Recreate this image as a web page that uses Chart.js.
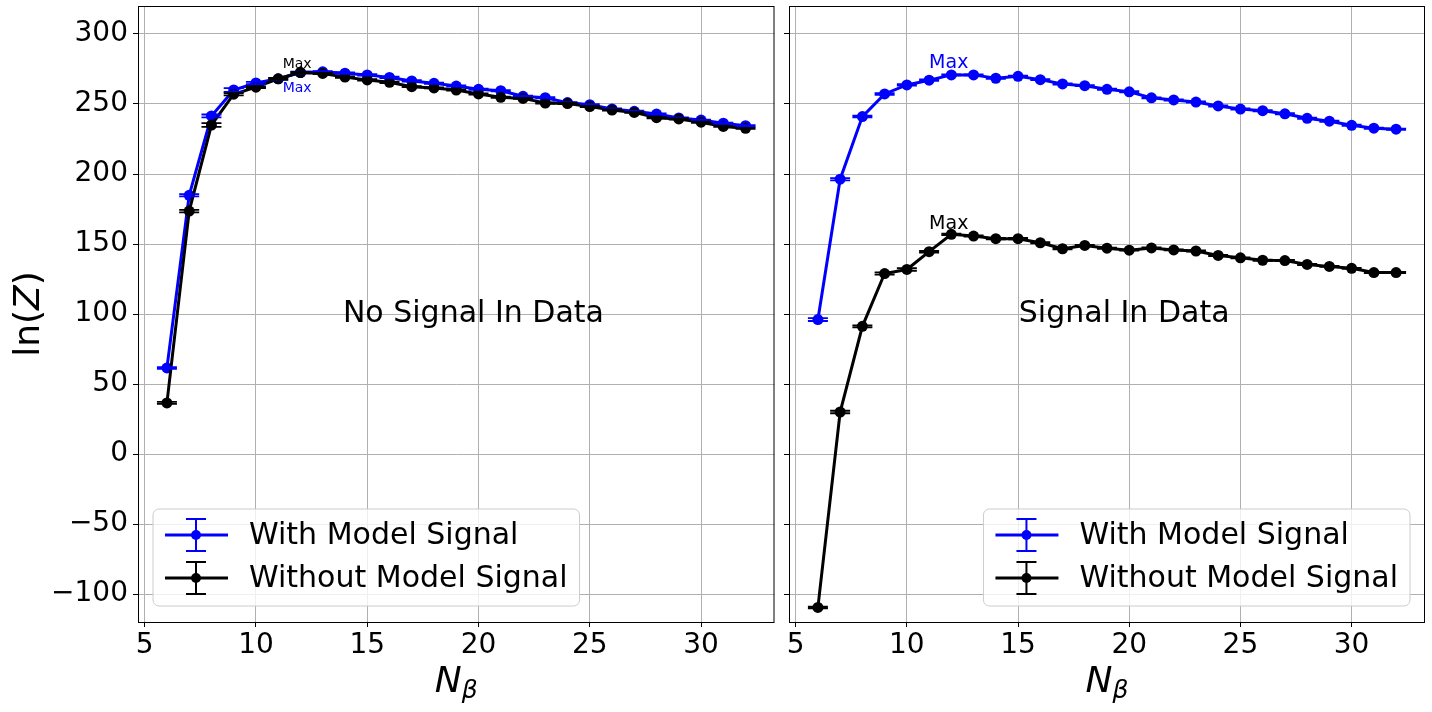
<!DOCTYPE html>
<html>
<head>
<meta charset="utf-8">
<script src="https://cdn.jsdelivr.net/npm/chart.js@4.4.0/dist/chart.umd.min.js"></script>
<style>
  html, body { margin: 0; padding: 0; background: #fff; }
  #wrap { position: relative; width: 1432px; height: 712px; }
  canvas { position: absolute; top: 0; }
</style>
</head>
<body>
<div id="wrap">
  <canvas id="leftChart" width="780" height="712" style="left:0;width:780px;height:712px"></canvas>
  <canvas id="rightChart" width="652" height="712" style="left:780px;width:652px;height:712px"></canvas>
</div>
<script>
// N_beta values (x axis)
const nBeta = [6, 7, 8, 9, 10, 11, 12, 13, 14, 15, 16, 17, 18, 19, 20, 21, 22, 23, 24, 25, 26, 27, 28, 29, 30, 31, 32];

// ln(Z) - no signal in data
const noSigWithModel = [61.5, 184.8, 241.5, 260, 265, 268, 272.5, 273, 272, 270.8, 269, 266.5, 264.8, 262.8, 260.5, 259.5, 255.5, 254.5, 251, 249.5, 246.5, 244.8, 242.8, 240, 238.5, 236.3, 234.5];
const noSigWithoutModel = [36.5, 173.5, 235, 257, 262, 268, 272.5, 271.8, 269.2, 267.2, 265.5, 262.4, 261.5, 260, 257.2, 254.8, 254, 250.7, 250.3, 248.2, 245.7, 244, 240.2, 239.3, 237, 234, 232.6];
const noSigWithErr = [0.6, 0.8, 1.0, 1.4, 0.8, 0.7, 0.6, 0.5, 0.5, 0.5, 0.5, 0.5, 0.4, 0.4, 0.4, 0.4, 0.4, 0.4, 0.4, 0.4, 0.4, 0.4, 0.4, 0.4, 0.4, 0.4, 0.4];
const noSigWithoutErr = [0.7, 0.9, 1.3, 0.8, 0.6, 0.6, 0.5, 0.5, 0.5, 0.5, 0.5, 0.4, 0.4, 0.4, 0.4, 0.4, 0.4, 0.4, 0.4, 0.4, 0.4, 0.4, 0.4, 0.4, 0.4, 0.4, 0.4];

// ln(Z) - signal in data
const sigWithModel = [96, 196.3, 241, 257.2, 263.6, 267, 270.8, 270.8, 268.4, 269.8, 267.4, 264.3, 263.1, 260.5, 258.7, 254.4, 252.9, 251.4, 248.6, 246.4, 245.2, 243, 239.8, 237.7, 234.8, 232.7, 232];
const sigWithoutModel = [-109.6, 30, 91.2, 128.9, 131.8, 144.5, 156.9, 155.7, 153.8, 153.8, 150.9, 146.6, 149, 147, 145.6, 147.2, 145.8, 145, 141.8, 140.1, 138.4, 138.2, 135.4, 134, 132.6, 129.6, 129.6];
const sigWithErr = [1.0, 0.8, 0.6, 0.6, 0.5, 0.5, 0.4, 0.4, 0.4, 0.4, 0.4, 0.4, 0.4, 0.4, 0.4, 0.4, 0.4, 0.4, 0.4, 0.4, 0.4, 0.4, 0.4, 0.4, 0.4, 0.4, 0.4];
const sigWithoutErr = [0.6, 0.9, 0.7, 0.8, 0.9, 0.6, 0.5, 0.5, 0.5, 0.5, 0.4, 0.4, 0.4, 0.4, 0.4, 0.4, 0.4, 0.4, 0.4, 0.4, 0.4, 0.4, 0.4, 0.4, 0.4, 0.4, 0.4];

const xTicks = [5, 10, 15, 20, 25, 30];
const yTicks = [-100, -50, 0, 50, 100, 150, 200, 250, 300];

const seriesLabels = ['With Model Signal', 'Without Model Signal'];
const BLUE = '#0000ff';
const BLACK = '#000000';
const FONT = '"DejaVu Sans", sans-serif';

// "Max" annotations: [x, y, colour, font size]
const leftMaxNotes = [[11.2, 274, BLACK, 14], [11.2, 257, BLUE, 14]];
const rightMaxNotes = [[11, 274.5, BLUE, 19], [11, 159.5, BLACK, 19]];

Chart.defaults.font.family = FONT;
Chart.defaults.font.size = 28;
Chart.defaults.color = BLACK;

function toPoints(vals) {
    return vals.map((v, i) => ({ x: nBeta[i], y: v }));
}

function makeDatasets(withVals, withErr, withoutVals, withoutErr) {
    const common = { borderWidth: 3, pointRadius: 5.5, pointHoverRadius: 5.5, pointBorderWidth: 0, tension: 0, fill: false };
    return [
        { ...common, label: seriesLabels[0], data: toPoints(withVals), errors: withErr,
          borderColor: BLUE, backgroundColor: BLUE, pointBackgroundColor: BLUE, order: 1 },
        { ...common, label: seriesLabels[1], data: toPoints(withoutVals), errors: withoutErr,
          borderColor: BLACK, backgroundColor: BLACK, pointBackgroundColor: BLACK, order: 0 }
    ];
}

const overlay = {
    id: 'overlay',
    afterDatasetsDraw(chart, args, opts) {
        const { ctx, chartArea: a, scales: { x, y } } = chart;
        ctx.save();
        ctx.beginPath();
        ctx.rect(a.left, a.top, a.right - a.left, a.bottom - a.top);
        ctx.clip();
        // error bars
        chart.data.datasets.forEach(ds => {
            ctx.strokeStyle = ds.borderColor;
            ctx.lineWidth = 1.8;
            ds.data.forEach((p, i) => {
                const px = x.getPixelForValue(p.x);
                const y1 = y.getPixelForValue(p.y - ds.errors[i]);
                const y2 = y.getPixelForValue(p.y + ds.errors[i]);
                ctx.beginPath();
                ctx.moveTo(px, y1); ctx.lineTo(px, y2);
                ctx.moveTo(px - 10, y1); ctx.lineTo(px + 10, y1);
                ctx.moveTo(px - 10, y2); ctx.lineTo(px + 10, y2);
                ctx.stroke();
            });
        });
        ctx.restore();

        // Max notes
        ctx.save();
        ctx.textAlign = 'left';
        ctx.textBaseline = 'alphabetic';
        opts.notes.forEach(([nx, ny, col, fs]) => {
            ctx.fillStyle = col;
            ctx.font = fs + 'px ' + FONT;
            ctx.fillText('Max', x.getPixelForValue(nx), y.getPixelForValue(ny) - 2);
        });
        // panel caption
        ctx.fillStyle = BLACK;
        ctx.font = '30px ' + FONT;
        ctx.textAlign = 'center';
        ctx.textBaseline = 'middle';
        ctx.fillText(opts.caption, a.left + (a.right - a.left) * 0.527, (a.top + a.bottom) / 2);
        ctx.restore();
    },
    afterDraw(chart, args, opts) {
        const { ctx, chartArea: a } = chart;
        ctx.save();
        // frame
        ctx.strokeStyle = BLACK;
        ctx.lineWidth = 1;
        ctx.strokeRect(a.left + 0.5, a.top + 0.5, a.right - a.left - 1, a.bottom - a.top);

        // legend
        ctx.font = '30px ' + FONT;
        const textW = Math.max(...seriesLabels.map(s => ctx.measureText(s).width));
        const boxW = 12 + 63 + 21 + textW + 12;
        const boxH = 97;
        const bx = opts.legendSide === 'left' ? a.left + 15 : a.right - 15 - boxW;
        const by = a.bottom - 16 - boxH;
        ctx.beginPath();
        ctx.roundRect(bx, by, boxW, boxH, 6);
        ctx.fillStyle = 'rgba(255,255,255,0.8)';
        ctx.fill();
        ctx.strokeStyle = '#cccccc';
        ctx.lineWidth = 1;
        ctx.stroke();
        [BLUE, BLACK].forEach((col, i) => {
            const ry = by + 26 + i * 43;
            const hx = bx + 12;
            const mx = hx + 31;
            ctx.strokeStyle = col;
            ctx.fillStyle = col;
            ctx.lineWidth = 3;
            ctx.beginPath(); ctx.moveTo(hx, ry); ctx.lineTo(hx + 63, ry); ctx.stroke();
            ctx.lineWidth = 2;
            ctx.beginPath();
            ctx.moveTo(mx, ry - 16); ctx.lineTo(mx, ry + 16);
            ctx.moveTo(mx - 10, ry - 16); ctx.lineTo(mx + 10, ry - 16);
            ctx.moveTo(mx - 10, ry + 16); ctx.lineTo(mx + 10, ry + 16);
            ctx.stroke();
            ctx.beginPath(); ctx.arc(mx, ry, 5, 0, Math.PI * 2); ctx.fill();
            ctx.fillStyle = BLACK;
            ctx.textAlign = 'left';
            ctx.textBaseline = 'middle';
            ctx.fillText(seriesLabels[i], hx + 63 + 21, ry + 1);
        });

        // x label N_beta
        const cx = (a.left + a.right) / 2;
        ctx.fillStyle = BLACK;
        ctx.textBaseline = 'alphabetic';
        ctx.font = 'italic 36px ' + FONT;
        const nW = ctx.measureText('N').width;
        ctx.font = 'italic 25px ' + FONT;
        const bW = ctx.measureText('β').width;
        const sx = cx - (nW + bW) / 2;
        ctx.font = 'italic 36px ' + FONT;
        ctx.textAlign = 'left';
        ctx.fillText('N', sx, 692);
        ctx.font = 'italic 25px ' + FONT;
        ctx.fillText('β', sx + nW, 698);

        // y label ln(Z)
        if (opts.yLabel) {
            ctx.translate(27, (a.top + a.bottom) / 2);
            ctx.rotate(-Math.PI / 2);
            const parts = [['ln(', '36px '], ['Z', 'italic 36px '], [')', '36px ']];
            let total = 0;
            parts.forEach(p => { ctx.font = p[1] + FONT; total += ctx.measureText(p[0]).width; });
            let px = -total / 2;
            parts.forEach(p => {
                ctx.font = p[1] + FONT;
                ctx.fillText(p[0], px, 12);
                px += ctx.measureText(p[0]).width;
            });
        }
        ctx.restore();
    }
};

function buildChart(canvasId, datasets, side) {
    const isLeft = side === 'left';
    return new Chart(document.getElementById(canvasId).getContext('2d'), {
        type: 'line',
        data: { datasets },
        options: {
            responsive: false,
            animation: false,
            devicePixelRatio: 1,
            layout: { padding: { top: 6, right: isLeft ? 4 : 7, left: 0, bottom: 0 } },
            plugins: {
                legend: { display: false },
                tooltip: { enabled: false },
                overlay: {
                    notes: isLeft ? leftMaxNotes : rightMaxNotes,
                    caption: isLeft ? 'No Signal In Data' : 'Signal In Data',
                    legendSide: isLeft ? 'left' : 'right',
                    yLabel: isLeft
                }
            },
            scales: {
                x: {
                    type: 'linear',
                    min: 4.7,
                    max: 33.3,
                    afterBuildTicks: s => { s.ticks = xTicks.map(v => ({ value: v })); },
                    afterFit: s => { s.height = 90; s.paddingLeft = 0; s.paddingRight = 0; },
                    grid: { color: '#b0b0b0', lineWidth: 1, tickColor: BLACK, tickLength: 5 },
                    border: { display: false },
                    ticks: { font: { family: FONT, size: 28 }, color: BLACK, padding: 2, maxRotation: 0, autoSkip: false }
                },
                y: {
                    type: 'linear',
                    min: -120,
                    max: 320,
                    afterBuildTicks: s => { s.ticks = yTicks.map(v => ({ value: v })); },
                    afterFit: s => { s.width = isLeft ? 138 : 9; s.paddingTop = 0; s.paddingBottom = 0; },
                    grid: { color: '#b0b0b0', lineWidth: 1, tickColor: BLACK, tickLength: 5 },
                    border: { display: false },
                    ticks: {
                        display: isLeft,
                        font: { family: FONT, size: 28 },
                        color: BLACK,
                        padding: 5,
                        autoSkip: false,
                        callback: v => String(v).replace('-', '\u2212')
                    }
                }
            }
        },
        plugins: [overlay]
    });
}

buildChart('leftChart', makeDatasets(noSigWithModel, noSigWithErr, noSigWithoutModel, noSigWithoutErr), 'left');
buildChart('rightChart', makeDatasets(sigWithModel, sigWithErr, sigWithoutModel, sigWithoutErr), 'right');
</script>
</body>
</html>
